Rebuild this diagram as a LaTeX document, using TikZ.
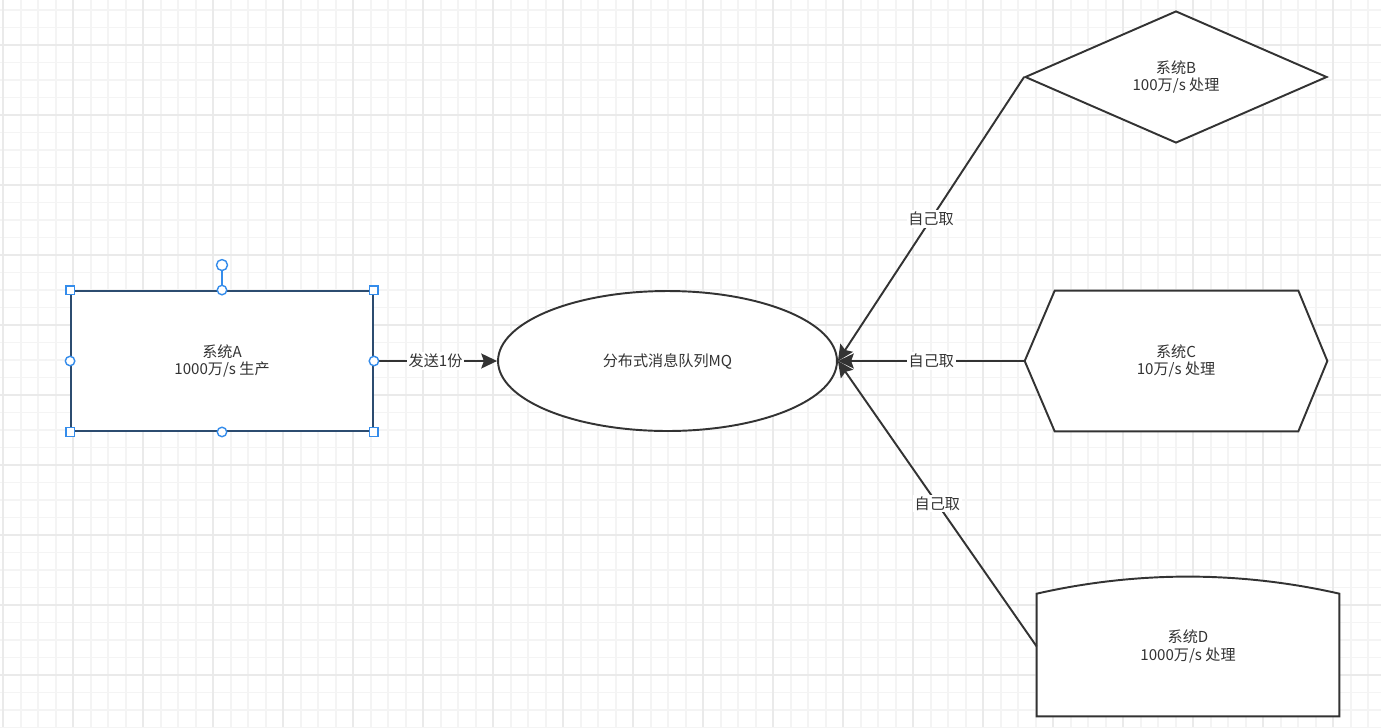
\documentclass[tikz,border=0pt]{standalone}
\usepackage{fontspec}
\setmainfont{Noto Sans CJK SC}
\usepackage{tikz}
\usetikzlibrary{shapes.geometric, arrows.meta, positioning, calc, backgrounds}
\definecolor{inkgray}{RGB}{51, 51, 51}
\definecolor{selblue}{RGB}{44, 76, 112}
\definecolor{handleblue}{RGB}{52, 140, 235}
\definecolor{gridminor}{RGB}{244, 244, 244}
\definecolor{gridmajor}{RGB}{234, 234, 234}

\begin{document}
\begin{tikzpicture}[
    x=0.02cm, y=-0.02cm, % one unit = one pixel of the sketch
    every node/.style={font=\fontsize{8.6}{10.2}\selectfont, text=inkgray},
    sysbox/.style={rectangle, draw=inkgray, line width=1.1pt, fill=white,
                   minimum width=6.04cm, minimum height=2.8cm, align=center, inner sep=0pt},
    queue/.style={ellipse, draw=inkgray, line width=1.1pt, fill=white,
                  minimum width=6.78cm, minimum height=2.8cm, inner sep=0pt},
    choice/.style={diamond, aspect=2.29, draw=inkgray, line width=1.1pt, fill=white,
                   minimum width=6.04cm, minimum height=2.64cm, align=center, inner sep=0pt},
    bare/.style={rectangle, minimum width=6.04cm, minimum height=2.8cm, align=center, inner sep=0pt},
    outline/.style={draw=inkgray, line width=1.1pt, fill=white, line join=miter},
    flow/.style={-{Stealth[length=9pt, width=8.5pt, inset=1.5pt]}, line width=1.1pt, draw=inkgray},
    lbl/.style={fill=white, inner sep=1pt},
    handle/.style={draw=handleblue, fill=white, line width=0.8pt}
]

\useasboundingbox (0,0) rectangle (1381,727);

% Grid
\begin{scope}[on background layer]
\fill[white] (0,0) rectangle (1381,727);
\foreach \i in {0,...,78}
  \draw[gridminor, line width=1pt] ({3.2+17.5*\i},0) -- ++(0,727);
\foreach \j in {0,...,41}
  \draw[gridminor, line width=1pt] (0,{10+17.5*\j}) -- ++(1381,0);
\foreach \i in {0,4,...,76}
  \draw[gridmajor, line width=1pt] ({3.2+17.5*\i},0) -- ++(0,727);
\foreach \j in {2,6,...,38}
  \draw[gridmajor, line width=1pt] (0,{10+17.5*\j}) -- ++(1381,0);
\end{scope}

% Nodes
\node[sysbox, draw=selblue] (a) at (222,361) {系统A\\1000万/s 生产};
\node[queue] (mq) at (667.5,361) {分布式消息队列MQ};
\node[choice] (b) at (1176,77) {系统B\\100万/s 处理};
\node[bare] (c) at (1176,361) {系统C\\10万/s 处理};
\node[bare, minimum height=2.78cm] (d) at (1188,646.5) {系统D\\1000万/s 处理};

% Outlines behind the bare nodes
\begin{scope}[on background layer]
\draw[outline] (c.west) -- ([xshift=0.6cm]c.north west) -- ([xshift=-0.58cm]c.north east)
  -- (c.east) -- ([xshift=-0.58cm]c.south east) -- ([xshift=0.6cm]c.south west) -- cycle;
\draw[outline] ([yshift=-0.34cm]d.north west) -- (d.south west) -- (d.south east)
  -- ([yshift=-0.34cm]d.north east)
  .. controls ([xshift=-2cm,yshift=0.115cm]d.north east) and ([xshift=2cm,yshift=0.115cm]d.north west)
  .. cycle;
\end{scope}

% Edges
\draw[flow] (a.east) -- node[lbl] {发送1份} (mq.west);
\draw[flow] (b.west) -- node[lbl] {自己取} (mq.east);
\draw[flow] (c.west) -- node[lbl] {自己取} (mq.east);
\draw[flow] (d.west) -- node[lbl] {自己取} (mq.east);

% Selection handles on A
\coordinate (rot) at ([yshift=0.5cm]a.north);
\draw[handle] (a.north) -- ([yshift=-0.11cm]rot);
\draw[handle] (rot) circle[radius=0.11cm];
\foreach \corner in {north west, north east, south west, south east}
  \draw[handle] ([xshift=-0.085cm, yshift=-0.085cm]a.\corner) rectangle ([xshift=0.085cm, yshift=0.085cm]a.\corner);
\foreach \side in {north, south, east, west}
  \draw[handle] (a.\side) circle[radius=0.095cm];

\end{tikzpicture}
\end{document}
